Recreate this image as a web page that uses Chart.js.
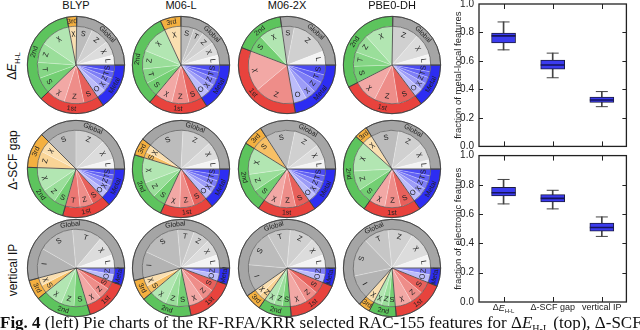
<!DOCTYPE html>
<html>
<head>
<meta charset="utf-8">
<script src="https://cdn.jsdelivr.net/npm/chart.js@4.4.0/dist/chart.umd.min.js"></script>
<style>
body { margin: 0; width: 640px; height: 330px; overflow: hidden; background: #fff; position: relative; font-family: "Liberation Sans", Arial, sans-serif; color: #111; }
.pie { position: absolute; }
.ttl { position: absolute; top: -1px; font-size: 11px; transform: translateX(-50%); white-space: nowrap; }
.row { position: absolute; font-size: 12px; white-space: nowrap; transform: translate(-50%, -50%) rotate(-90deg); }
.row sub { font-size: 7px; }
.box { position: absolute; left: 440px; }
.cap { position: absolute; left: 0; top: 314px; font: 17px "Liberation Serif", "Times New Roman", serif; white-space: nowrap; line-height: 1; }
.cap sub { font-size: 10px; }
</style>
</head>
<body>
<canvas id="local" class="box" style="top:-10px" width="200" height="170"></canvas>
<canvas id="elec" class="box" style="top:142px" width="200" height="188"></canvas>
<div class="cap"><b>Fig. 4</b> (left) Pie charts of the RF-RFA/KRR selected RAC-155 features for Δ<i>E</i><sub>H-L</sub> (top), Δ-SCF gap (middle) and vertical IP (bottom)</div>
<script>
const methods = ['BLYP', 'M06-L', 'M06-2X', 'PBE0-DH'];
const properties = ['Δ<i>E</i><sub>H-L</sub>', 'Δ-SCF gap', 'vertical IP'];
const groups = ['Metal', '1st', '2nd', '3rd', 'Global'];
const groupKeys = ['m', '1', '2', '3', 'g'];

// slice code = group key + RAC property, values in degrees of the pie
const hlBLYP = ['mS','mT','mZ','mχ','mO','1S','1Z','1χ','2S','2T','2Z','2χ','3χ','gS','gZ','gχ','gL'];
const hlBLYPv = [10,10,10,12,14,22,30,28,24,24,30,45,12,24,28,22,15];
const hlM06L = ['mS','mT','mZ','mχ','mO','1S','1Z','1χ','2S','2T','2Z','2χ','3χ','gS','gT','gZ','gχ','gL'];
const hlM06Lv = [11,10,11,12,14,20,26,26,22,22,28,43,25,20,15,20,20,15];
const hlM062X = ['mS','mT','mZ','mχ','mO','1Z','1χ','2S','2χ','gS','gZ','gL'];
const hlM062Xv = [15,12,17,16,20,60,61,26,35,19,58,21];
const hlPBE0 = ['mS','mT','mZ','mχ','mO','1S','1Z','1χ','2S','2T','2Z','2χ','gZ','gχ','gL'];
const hlPBE0v = [10,9,10,11,13,28,36,36,25,22,28,43,40,33,16];

const gapBLYP = ['mS','mT','mZ','mχ','mO','1S','1Z','1T','2S','2Z','2χ','3Z','3χ','gS','gZ','gχ','gL'];
const gapBLYPv = [9,8,9,10,11,17,20,22,18,22,36,25,18,45,45,30,15];
const gapM06L = ['mS','mT','mZ','mχ','mO','1S','1Z','1χ','2S','2Z','2χ','3S','3χ','gS','gZ','gχ','gL'];
const gapM06Lv = [9,9,10,10,12,20,22,23,20,24,38,9,12,55,45,27,15];
const gapM062X = ['mS','mT','mZ','mχ','mO','1S','1Z','1χ','2S','2Z','2χ','3S','gS','gZ','gχ','gL'];
const gapM062Xv = [10,10,11,11,13,22,24,25,20,26,40,25,45,40,24,14];
const gapPBE0 = ['mS','mT','mZ','mχ','mO','1S','1Z','1χ','2S','2Z','2χ','3χ','gS','gZ','gχ','gL'];
const gapPBE0v = [10,10,11,11,13,22,24,24,22,30,45,16,42,40,26,14];

const ipBLYP = ['mZ','mO','1S','1Z','1χ','2S','2Z','2χ','3S','3χ','gI','gS','gT','gχ','gL'];
const ipBLYPv = [10,11,12,18,22,20,20,28,12,12,45,55,45,30,20];
const ipM06L = ['mZ','mO','1S','1Z','1χ','2S','2Z','2χ','3S','3χ','gI','gS','gT','gZ','gχ','gL'];
const ipM06Lv = [9,11,16,19,23,18,18,26,12,13,40,60,25,25,25,20];
const ipM062X = ['mZ','mO','1S','1Z','1χ','2S','2Z','2χ','3Z','3χ','gI','gS','gT','gZ','gχ','gL'];
const ipM062Xv = [10,12,18,20,25,12,13,15,10,10,40,55,35,37,28,20];
const ipPBE0 = ['mZ','mO','1S','1Z','1χ','2S','2Z','2χ','3χ','gI','gS','gT','gZ','gχ','gL'];
const ipPBE0v = [10,12,18,20,25,10,11,12,14,36,58,38,38,38,20];

const boxCats = ['ΔE_H-L', 'Δ-SCF gap', 'vertical IP'];
const localMin = [0.678, 0.482, 0.279];
const localQ1 = [0.727, 0.543, 0.309];
const localMed = [0.776, 0.572, 0.326];
const localQ3 = [0.795, 0.606, 0.347];
const localMax = [0.874, 0.655, 0.385];
const elecMin = [0.670, 0.636, 0.448];
const elecQ1 = [0.724, 0.683, 0.484];
const elecMed = [0.746, 0.708, 0.509];
const elecQ3 = [0.783, 0.733, 0.539];
const elecMax = [0.837, 0.763, 0.581];

const pieCodes = [[hlBLYP, hlM06L, hlM062X, hlPBE0], [gapBLYP, gapM06L, gapM062X, gapPBE0], [ipBLYP, ipM06L, ipM062X, ipPBE0]];
const pieVals = [[hlBLYPv, hlM06Lv, hlM062Xv, hlPBE0v], [gapBLYPv, gapM06Lv, gapM062Xv, gapPBE0v], [ipBLYPv, ipM06Lv, ipM062Xv, ipPBE0v]];

const colX = [76, 181, 287, 392];
const rowY = [65, 169, 268];
const rowLabelY = [66, 160, 270];

const ringColors = {m: '#2d2df2', '1': '#e8433d', '2': '#5dc45d', '3': '#f4b040', g: '#a5a5a5'};
const shades = {
    m: ['#3a3af2', '#4a4af3', '#6262f4', '#7e7ef6', '#9c9cf7', '#bcbcfa', '#d4d4fc'],
    '1': ['#e64a45', '#e8605b', '#eb7773', '#ee8d89', '#f2a8a5', '#f5bdbb', '#f8d2d0'],
    '2': ['#5ec85e', '#72cf72', '#86d686', '#9ade9a', '#b2e6b2', '#c6eec6', '#d8f4d8'],
    '3': ['#f6b84e', '#f7c065', '#f8ca7e', '#f9d496', '#fadfb0', '#fce8c6', '#fdf0da'],
    g: ['#b3b3b3', '#bcbcbc', '#c6c6c6', '#d0d0d0', '#dcdcdc', '#e8e8e8', '#f4f4f4']
};
const rank = {I: 0, S: 1, T: 2, Z: 3, 'χ': 4, O: 5, L: 6};

Chart.defaults.font.family = '"Liberation Sans", Arial, sans-serif';
Chart.defaults.color = '#222';

function placeText(ctx, txt, cx, cy, r, a) {
    ctx.save();
    ctx.translate(cx + Math.cos(a) * r, cy + Math.sin(a) * r);
    const an = ((a % (2 * Math.PI)) + 2 * Math.PI) % (2 * Math.PI);
    let rot = a + Math.PI / 2;
    if (an > 0.001 && an < Math.PI) {
        rot = a - Math.PI / 2;
    }
    ctx.rotate(rot);
    ctx.fillText(txt, 0, 0);
    ctx.restore();
}

const pieText = {
    id: 'pieText',
    afterDatasetsDraw(chart) {
        const ctx = chart.ctx;
        const ring = chart.getDatasetMeta(0).data;
        const inner = chart.getDatasetMeta(1).data;
        const codes = chart.data.datasets[1].codes;
        ctx.save();
        ctx.fillStyle = '#222';
        ctx.textAlign = 'center';
        ctx.textBaseline = 'middle';
        ctx.font = '7.5px "Liberation Sans", Arial, sans-serif';
        inner.forEach((arc, i) => {
            placeText(ctx, codes[i].slice(1), arc.x, arc.y, arc.outerRadius * 0.82, (arc.startAngle + arc.endAngle) / 2);
        });
        ctx.font = '7px "Liberation Sans", Arial, sans-serif';
        ring.forEach((arc, i) => {
            if (arc.endAngle - arc.startAngle < 1e-6) return;
            placeText(ctx, groups[i], arc.x, arc.y, (arc.innerRadius + arc.outerRadius) / 2, (arc.startAngle + arc.endAngle) / 2);
        });
        ctx.strokeStyle = '#3a3a3a';
        ctx.lineWidth = 0.8;
        ctx.beginPath();
        ring.forEach(arc => {
            if (arc.endAngle - arc.startAngle < 1e-6) return;
            ctx.moveTo(arc.x, arc.y);
            ctx.lineTo(arc.x + Math.cos(arc.startAngle) * arc.outerRadius, arc.y + Math.sin(arc.startAngle) * arc.outerRadius);
        });
        ctx.stroke();
        const a0 = ring[0];
        ctx.beginPath();
        ctx.arc(a0.x, a0.y, a0.outerRadius, 0, 2 * Math.PI);
        ctx.stroke();
        ctx.restore();
    }
};

for (let r = 0; r < 3; r++) {
    const lab = document.createElement('div');
    lab.className = 'row';
    lab.style.left = '13px';
    lab.style.top = rowLabelY[r] + 'px';
    lab.innerHTML = properties[r];
    document.body.appendChild(lab);

    for (let c = 0; c < 4; c++) {
        const codes = pieCodes[r][c];
        const vals = pieVals[r][c];
        const cv = document.createElement('canvas');
        cv.className = 'pie';
        cv.width = 104;
        cv.height = 104;
        cv.style.left = (colX[c] - 52) + 'px';
        cv.style.top = (rowY[r] - 52) + 'px';
        document.body.appendChild(cv);

        let sums = groupKeys.map(k => 0);
        for (let i = 0; i < codes.length; i++) {
            sums[groupKeys.indexOf(codes[i][0])] += vals[i];
        }

        new Chart(cv, {
            type: 'pie',
            data: {
                labels: codes,
                datasets: [{
                    data: sums,
                    backgroundColor: groupKeys.map(k => ringColors[k]),
                    borderColor: '#555',
                    borderWidth: 0.7,
                    weight: 10
                }, {
                    data: vals,
                    codes: codes,
                    backgroundColor: codes.map(s => shades[s[0]][rank[s.slice(1)]]),
                    borderColor: 'rgba(255,255,255,0.45)',
                    borderWidth: 0.5,
                    weight: 39
                }]
            },
            options: {
                responsive: false,
                animation: false,
                events: [],
                rotation: 90,
                layout: {padding: 3},
                plugins: {legend: {display: false}, tooltip: {enabled: false}}
            },
            plugins: [pieText]
        });

        if (r === 0) {
            const t = document.createElement('div');
            t.className = 'ttl';
            t.style.left = colX[c] + 'px';
            t.textContent = methods[c];
            document.body.appendChild(t);
        }
    }
}

function drawLabel(ctx, txt, cx, cy) {
    let parts;
    if (txt.indexOf('_') >= 0) {
        const [main, sub] = txt.split('_');
        parts = [
            {t: main.slice(0, 1), f: '9px "Liberation Sans", Arial, sans-serif', dy: 0},
            {t: main.slice(1), f: 'italic 9px "Liberation Sans", Arial, sans-serif', dy: 0},
            {t: sub, f: '6px "Liberation Sans", Arial, sans-serif', dy: 3}
        ];
    } else {
        parts = [{t: txt, f: '9px "Liberation Sans", Arial, sans-serif', dy: 0}];
    }
    let w = 0;
    parts.forEach(p => { ctx.font = p.f; w += ctx.measureText(p.t).width; });
    let x = cx - w / 2;
    ctx.textAlign = 'left';
    ctx.textBaseline = 'middle';
    parts.forEach(p => {
        ctx.font = p.f;
        ctx.fillText(p.t, x, cy + p.dy);
        x += ctx.measureText(p.t).width;
    });
}

const frame = {
    id: 'frame',
    afterDraw(chart) {
        const {ctx, chartArea: a, scales: {x, y}} = chart;
        ctx.save();
        ctx.strokeStyle = '#222';
        ctx.lineWidth = 1;
        ctx.beginPath();
        for (let v = 0.2; v < 0.95; v += 0.2) {
            const py = Math.round(y.getPixelForValue(v)) + 0.5;
            ctx.moveTo(a.left, py); ctx.lineTo(a.left + 4, py);
            ctx.moveTo(a.right, py); ctx.lineTo(a.right - 4, py);
        }
        boxCats.forEach((c, i) => {
            const px = Math.round(x.getPixelForValue(i)) + 0.5;
            ctx.moveTo(px, a.top); ctx.lineTo(px, a.top + 5);
            ctx.moveTo(px, a.bottom); ctx.lineTo(px, a.bottom - 5);
        });
        ctx.stroke();
        ctx.lineWidth = 1.3;
        ctx.strokeRect(a.left, a.top, a.right - a.left, a.bottom - a.top);
        if (chart.options.plugins.frame.labels) {
            ctx.fillStyle = '#222';
            boxCats.forEach((c, i) => drawLabel(ctx, c, x.getPixelForValue(i), a.bottom + 6));
        }
        ctx.restore();
    }
};

function boxChart(id, title, mn, q1, md, q3, mx, padTop, padBottom, labels) {
    const pair = (lo, hi) => lo.map((v, i) => [v, hi[i]]);
    const tick = (data, len, color, width) => ({
        type: 'line', data: data, showLine: false, pointStyle: 'line',
        pointRadius: len, pointBorderColor: color, pointBorderWidth: width, borderColor: color, order: 1
    });
    return new Chart(document.getElementById(id), {
        type: 'bar',
        data: {
            labels: boxCats,
            datasets: [
                {data: pair(mn, q1), backgroundColor: '#444', barThickness: 1, grouped: false, order: 3},
                {data: pair(q3, mx), backgroundColor: '#444', barThickness: 1, grouped: false, order: 3},
                {data: pair(q1, q3), backgroundColor: '#3b3bef', borderColor: '#1d1d40', borderWidth: 1,
                 borderSkipped: false, barThickness: 24, grouped: false, order: 2},
                tick(md, 12, '#15155a', 1.6),
                tick(mn, 6, '#444', 1),
                tick(mx, 6, '#444', 1)
            ]
        },
        options: {
            responsive: false,
            animation: false,
            events: [],
            layout: {padding: {left: 13, right: 7, top: padTop, bottom: padBottom}},
            plugins: {legend: {display: false}, tooltip: {enabled: false}, frame: {labels: labels}},
            scales: {
                x: {display: false},
                y: {
                    min: 0, max: 1,
                    afterFit: s => { s.width = 26; },
                    grid: {display: false, drawTicks: false},
                    border: {display: false},
                    ticks: {stepSize: 0.2, padding: 5, color: '#222', font: {size: 10}, callback: v => v.toFixed(1)},
                    title: {display: true, text: title, color: '#222', font: {size: 9.5}, padding: 0}
                }
            }
        },
        plugins: [frame]
    });
}

boxChart('local', 'fraction of metal-local features', localMin, localQ1, localMed, localQ3, localMax, 14, 8, false);
boxChart('elec', 'fraction of electronic features', elecMin, elecQ1, elecMed, elecQ3, elecMax, 12, 28, true);
</script>
</body>
</html>
